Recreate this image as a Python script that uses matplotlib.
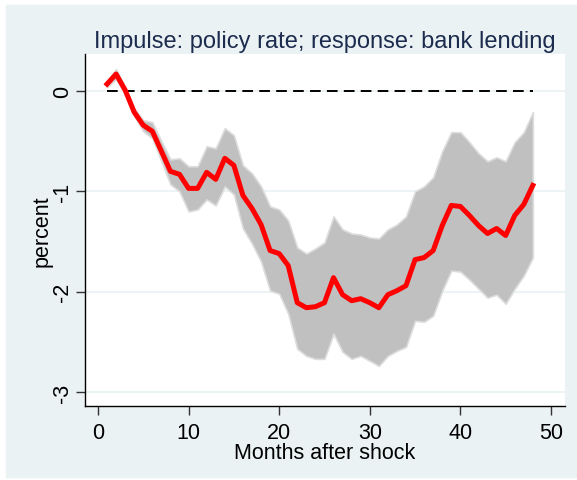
import numpy as np
import matplotlib.pyplot as plt
from matplotlib.patches import Rectangle

plt.rcParams['font.family'] = ['Liberation Sans', 'DejaVu Sans']

# impulse response of bank lending to a policy-rate shock, with confidence band
months = np.arange(1, 49)
irf = [0.07, 0.17, 0.01, -0.21, -0.34, -0.40, -0.60, -0.80, -0.83, -0.97,
       -0.97, -0.81, -0.88, -0.67, -0.74, -1.04, -1.17, -1.33, -1.59, -1.62,
       -1.74, -2.11, -2.16, -2.15, -2.11, -1.86, -2.03, -2.09, -2.07, -2.11,
       -2.16, -2.03, -1.99, -1.94, -1.68, -1.66, -1.59, -1.34, -1.14, -1.15,
       -1.24, -1.34, -1.42, -1.37, -1.44, -1.24, -1.13, -0.94]
upper = [0.10, 0.22, 0.04, -0.17, -0.29, -0.31, -0.50, -0.68, -0.67, -0.75,
         -0.75, -0.55, -0.57, -0.37, -0.44, -0.74, -0.82, -0.95, -1.15, -1.18,
         -1.29, -1.56, -1.62, -1.57, -1.51, -1.25, -1.38, -1.42, -1.43, -1.46,
         -1.47, -1.38, -1.33, -1.25, -1.00, -0.95, -0.86, -0.60, -0.41, -0.41,
         -0.51, -0.62, -0.70, -0.66, -0.70, -0.51, -0.41, -0.21]
lower = [0.04, 0.12, -0.03, -0.25, -0.40, -0.47, -0.70, -0.93, -1.00, -1.20,
         -1.18, -1.08, -1.14, -0.95, -1.03, -1.37, -1.52, -1.70, -1.99, -2.02,
         -2.22, -2.57, -2.64, -2.67, -2.67, -2.42, -2.60, -2.67, -2.64, -2.69,
         -2.74, -2.64, -2.59, -2.55, -2.29, -2.30, -2.24, -1.99, -1.79, -1.80,
         -1.88, -1.97, -2.06, -2.03, -2.12, -1.97, -1.84, -1.66]
xticks = [0, 10, 20, 30, 40, 50]
yticks = [0, -1, -2, -3]

bg = '#EAF2F3'
fig = plt.figure(figsize=(5.77, 4.81), dpi=100)
fig.patches.append(Rectangle((6 / 577, 3 / 481), 1, 472 / 481,
                             transform=fig.transFigure, color=bg, zorder=-10))

ax = fig.add_axes([85 / 577, 1 - 407 / 481, 480 / 577, 352 / 481])
ax.set_facecolor('white')

ax.fill_between(months, lower, upper, color='#C0C0C0', edgecolor='#DCDCDC',
                linewidth=1.2, zorder=2)
ax.plot(months, np.zeros(len(months)), color='black', lw=1.4,
        dashes=(5.5, 3.2), zorder=3)
ax.plot(months, irf, color='#FF0000', lw=3.6, zorder=4,
        solid_joinstyle='round')

ax.set_xlim(-1.43, 51.55)
ax.set_ylim(-3.14, 0.37)
ax.set_xticks(xticks)
ax.set_yticks(yticks)
ax.set_yticklabels([str(t) for t in yticks], rotation=90, va='center')
ax.grid(axis='y', color=bg, lw=1.2, zorder=1)
ax.set_axisbelow(True)

for s in ['top', 'right']:
    ax.spines[s].set_visible(False)
for s in ['left', 'bottom']:
    ax.spines[s].set_color('black')
    ax.spines[s].set_linewidth(1.0)
ax.tick_params(direction='out', length=6.5, width=1, color='#333333',
               labelsize=15.5, pad=5)
ax.tick_params(axis='y', pad=2)

ax.set_xlabel('Months after shock', fontsize=15.5, labelpad=-1)
ax.set_ylabel('percent', fontsize=15.5, labelpad=0)
ax.set_title('Impulse: policy rate; response: bank lending', fontsize=17,
             color='#1C2B4E', pad=5)

fig.savefig('out.png', dpi=100)
